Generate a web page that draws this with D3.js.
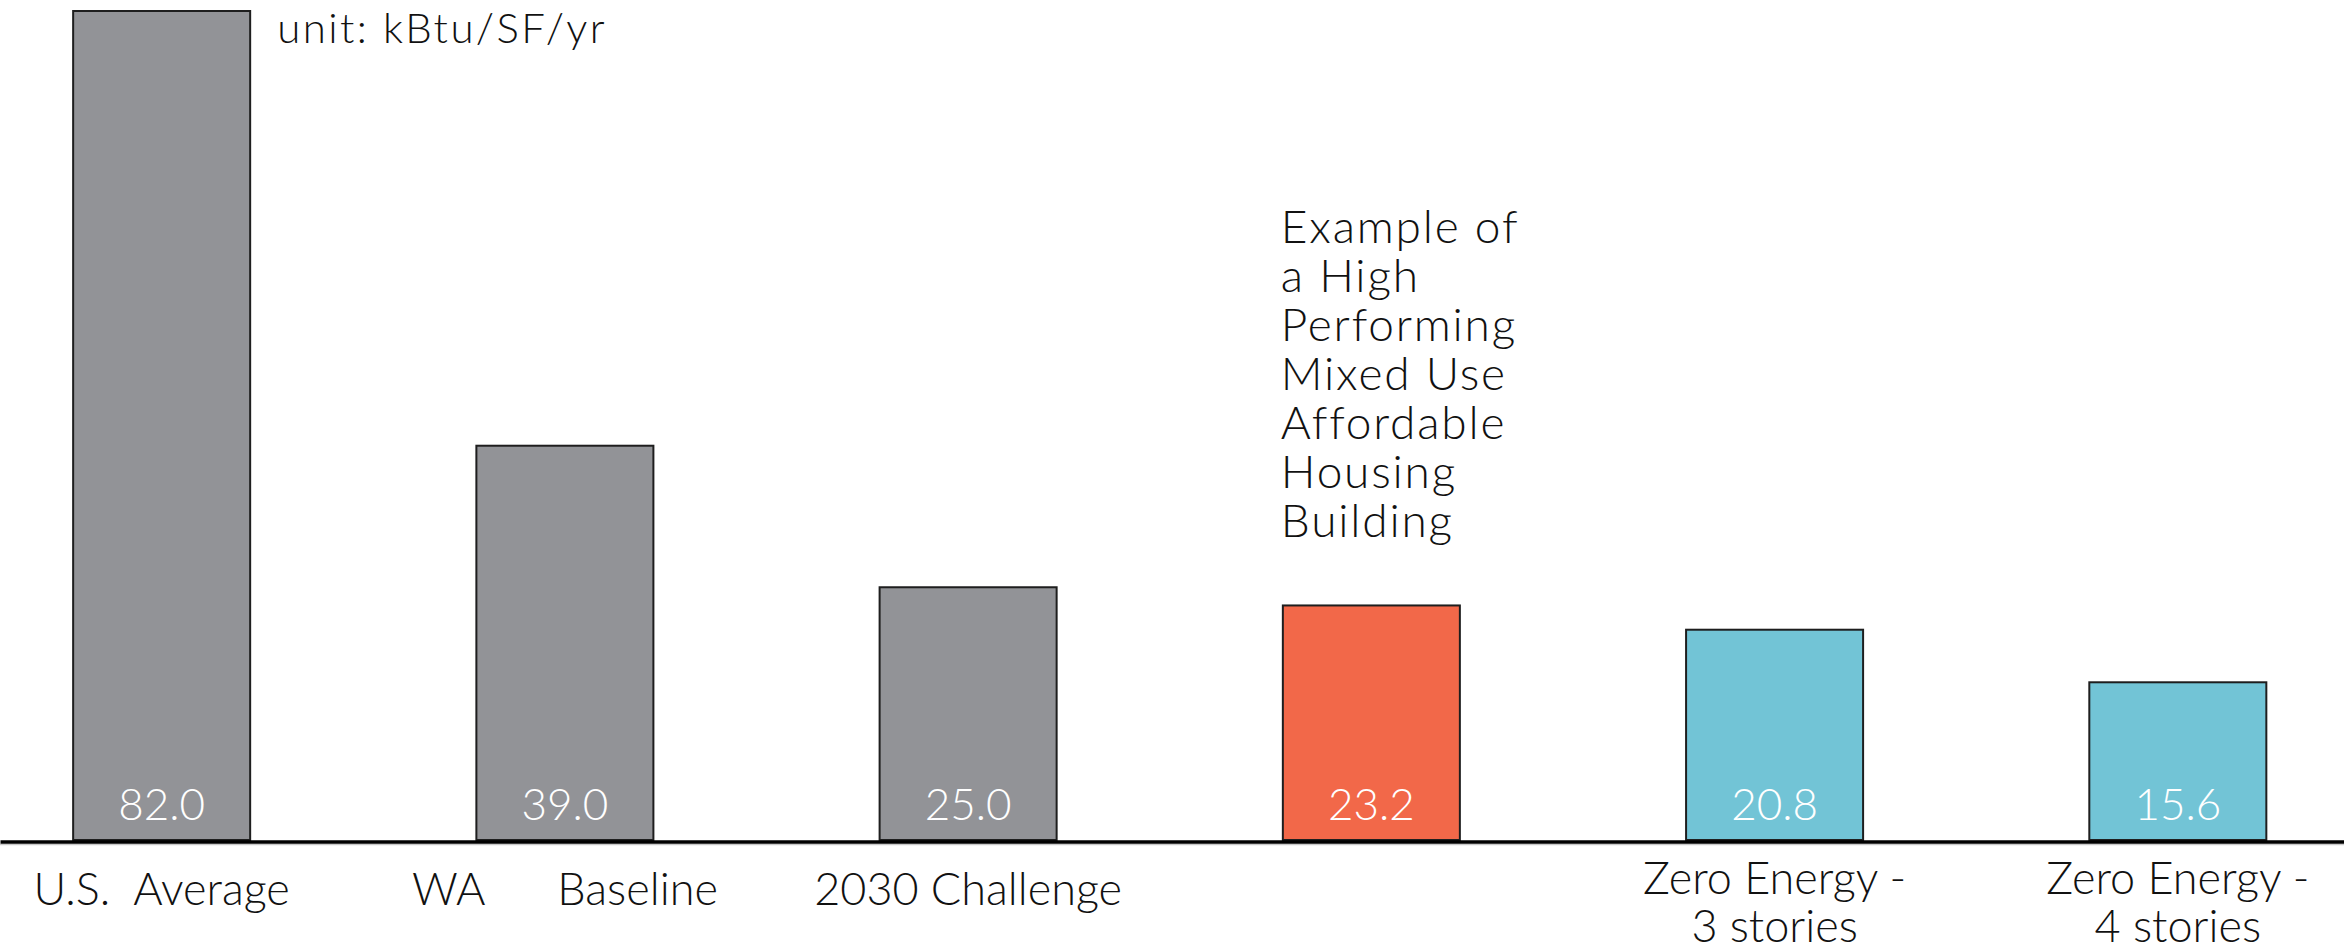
<!DOCTYPE html>
<html>
<head>
<meta charset="utf-8">
<script src="https://cdn.jsdelivr.net/npm/d3@7"></script>
<style>
  html, body { margin: 0; padding: 0; background: #ffffff; }
  svg { display: block; }
  text { font-family: Lato, "Open Sans", sans-serif; }
</style>
</head>
<body>
<svg id="chart" width="2344" height="952"></svg>
<script>
// Site energy use intensity by building type
const categories = ["U.S. Average", "WA Baseline", "2030 Challenge", "Example Building", "Zero Energy 3", "Zero Energy 4"];
const values = [82.0, 39.0, 25.0, 23.2, 20.8, 15.6];
const groups = ["reference", "reference", "reference", "example", "zero", "zero"];
const groupNames = ["reference", "example", "zero"];
const groupColors = ["#929397", "#F26849", "#72C4D6"];
const tickLines = [
  ["U.S.  Average"],
  ["WA      Baseline"],
  ["2030 Challenge"],
  [],
  ["Zero Energy -", "3 stories"],
  ["Zero Energy -", "4 stories"]
];
const annotationLines = ["Example of", "a High", "Performing", "Mixed Use", "Affordable", "Housing", "Building"];
const unitLabel = "unit: kBtu/SF/yr";

const W = 2344, H = 952;
const baseY = 840, topY = 11;

const svg = d3.select("#chart");

const x = d3.scaleBand()
  .domain(categories)
  .range([0, W])
  .paddingInner(0.561)
  .paddingOuter(0.187)
  .align(0.485);

const y = d3.scaleLinear()
  .domain([0, d3.max(values)])
  .range([baseY, topY]);

const color = d3.scaleOrdinal().domain(groupNames).range(groupColors);

const data = categories.map((c, i) => ({ c, v: values[i], g: groups[i], lines: tickLines[i] }));

// bars
svg.append("g")
  .selectAll("rect")
  .data(data)
  .join("rect")
  .attr("x", d => x(d.c))
  .attr("y", d => y(d.v))
  .attr("width", x.bandwidth())
  .attr("height", d => baseY - y(d.v))
  .attr("fill", d => color(d.g))
  .attr("stroke", "#1e1e1e")
  .attr("stroke-width", 2);

// value labels inside the bars
svg.append("g")
  .selectAll("text")
  .data(data)
  .join("text")
  .attr("x", d => x(d.c) + x.bandwidth() / 2)
  .attr("y", baseY - 20)
  .attr("text-anchor", "middle")
  .attr("fill", "#ffffff")
  .attr("font-size", 44)
  .attr("font-weight", 300)
  .text(d => d3.format(".1f")(d.v));

// baseline shadow
svg.append("line")
  .attr("x1", x.range()[0]).attr("x2", x.range()[1])
  .attr("y1", baseY + 4.5).attr("y2", baseY + 4.5)
  .attr("stroke", "#c9c9c9")
  .attr("stroke-width", 1.5);

// category axis
const axis = svg.append("g")
  .attr("transform", `translate(0,${baseY + 1.5})`)
  .call(d3.axisBottom(x).tickSize(0).tickSizeOuter(0).tickFormat(() => ""));

axis.select(".domain")
  .attr("stroke", "#000000")
  .attr("stroke-width", 3.5);

axis.selectAll(".tick text").remove();
axis.selectAll(".tick")
  .data(data)
  .append("text")
  .attr("text-anchor", "middle")
  .attr("fill", "#111111")
  .attr("font-size", 45)
  .attr("font-weight", 300)
  .style("white-space", "pre")
  .attr("xml:space", "preserve")
  .each(function(d) {
    const t = d3.select(this);
    const first = d.lines.length > 1 ? 52 : 63;
    d.lines.forEach((line, j) => {
      t.append("tspan")
        .attr("x", 0)
        .attr("y", first + j * 48)
        .text(line);
    });
  });

// annotation above the example building
const ex = data[3];
const ann = svg.append("text")
  .attr("fill", "#111111")
  .attr("font-size", 46)
  .attr("font-weight", 300)
  .attr("letter-spacing", 1.8);
annotationLines.forEach((line, i) => {
  ann.append("tspan")
    .attr("x", x(ex.c) - 2)
    .attr("y", y(ex.v) - 68 - (annotationLines.length - 1 - i) * 49)
    .text(line);
});

// unit note beside the tallest bar
svg.append("text")
  .attr("x", x(categories[0]) + x.bandwidth() + 27)
  .attr("y", 43)
  .attr("fill", "#111111")
  .attr("font-size", 42)
  .attr("font-weight", 300)
  .attr("letter-spacing", 2.4)
  .text(unitLabel);
</script>
</body>
</html>
